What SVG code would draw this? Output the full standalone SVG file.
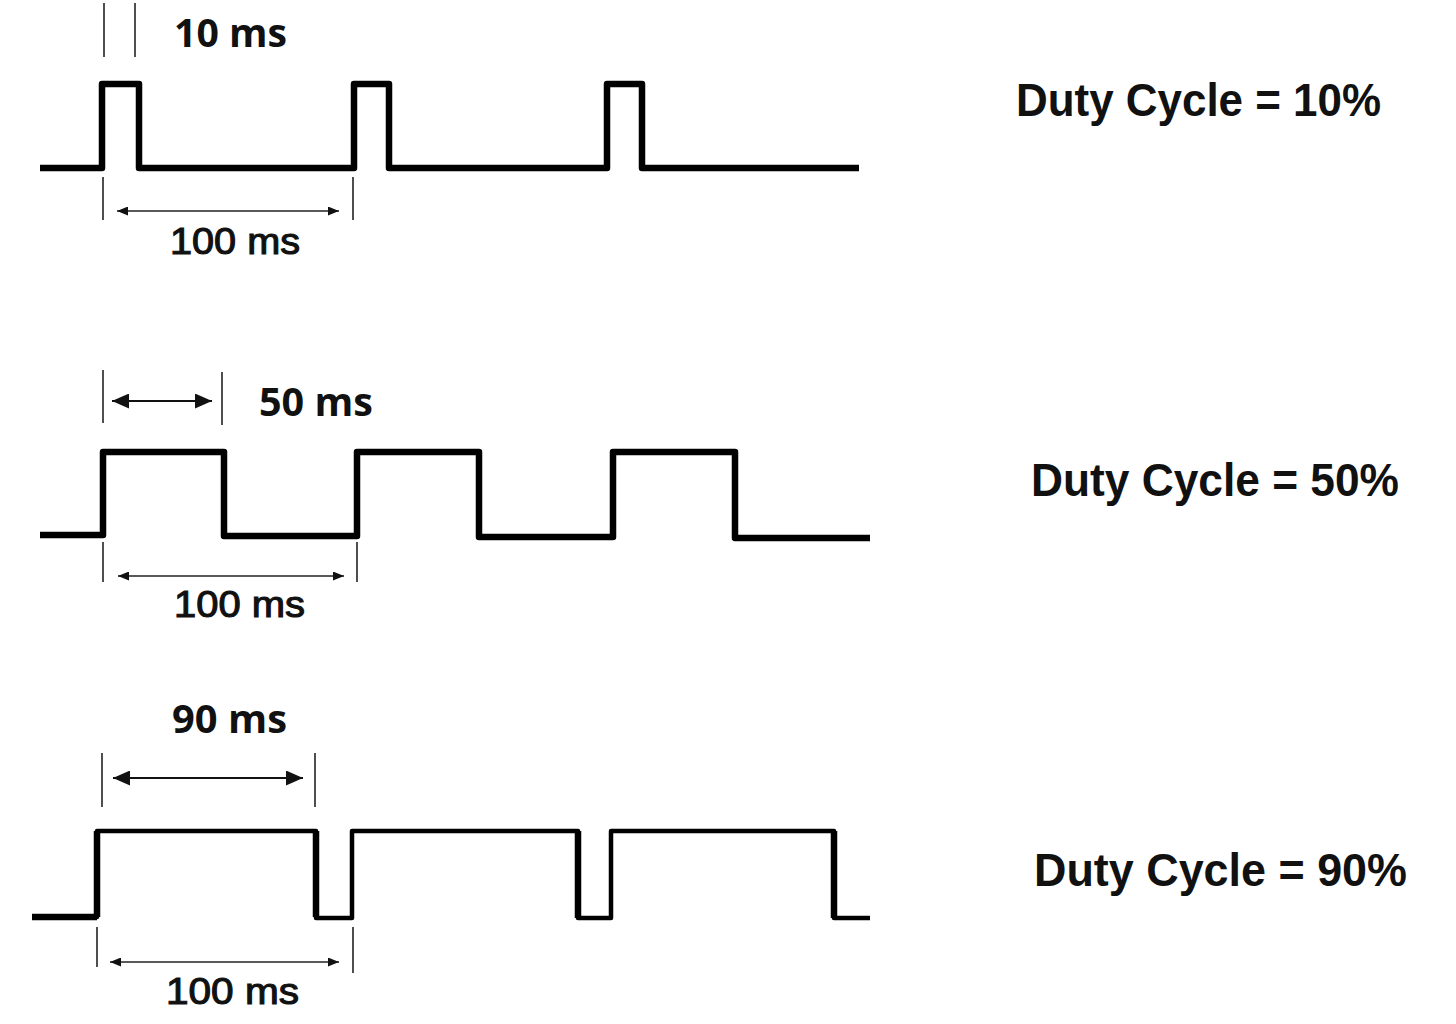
<svg xmlns="http://www.w3.org/2000/svg" width="1456" height="1024" viewBox="0 0 1456 1024">
  <defs>
    <marker id="arrS" markerUnits="userSpaceOnUse" markerWidth="11" markerHeight="9" refX="11" refY="4.5" orient="auto-start-reverse">
      <path d="M0,0 L11,4.5 L0,9 z" fill="#111"/>
    </marker>
    <marker id="arrL" markerUnits="userSpaceOnUse" markerWidth="17" markerHeight="15" refX="17" refY="7.5" orient="auto-start-reverse">
      <path d="M0,0 L17,7.5 L0,15 z" fill="#111"/>
    </marker>
  </defs>
  <style>
    .wave { fill: none; stroke: #000; stroke-linejoin: round; stroke-linecap: butt; }
    .tick { stroke: #222; stroke-width: 1.6; fill: none; }
    .dimS { stroke: #222; stroke-width: 1.6; fill: none; marker-start: url(#arrS); marker-end: url(#arrS); }
    .dimL { stroke: #111; stroke-width: 2.2; fill: none; marker-start: url(#arrL); marker-end: url(#arrL); }
    .lblB { font-family: "Open Sans", "Noto Sans", sans-serif; font-weight: 700; font-size: 40px; fill: #111; }
    .lblR { font-family: "Liberation Sans", Arial, sans-serif; font-weight: 400; font-size: 36px; fill: #111; stroke: #111; stroke-width: 1.1; }
    .duty { font-family: "Liberation Sans", Arial, sans-serif; font-weight: 700; font-size: 46px; fill: #111; }
  </style>
  <rect width="1456" height="1024" fill="#fff"/>

  <g id="wave1">
    <path class="wave" stroke-width="6.5" d="M40,168 H102 V84 H139 V168 H354 V84 H389 V168 H607 V84 H642 V168 H859"/>
  </g>
  <g id="wave2">
    <path class="wave" stroke-width="6.5" d="M40,535 H103 V452 H224 V536 H357 V452 H479 V537 H613 V452 H735 V538 H870"/>
  </g>
  <g id="wave3">
    <path class="wave" stroke-width="4.5" d="M32,917 H97 V831 H316 V918 H352 V831 H578 V918 H611 V831 H834 V918 H870"/>
    <path class="wave" stroke-width="6.5" d="M32,917 H97 M97,917 V831 M316,831 V917 M578,831 V918 M834,831 V918"/>
  </g>

  <g id="dimensions">
    <line class="tick" x1="104" y1="3" x2="104" y2="57"/>
    <line class="tick" x1="135" y1="3" x2="135" y2="57"/>
    <line class="tick" x1="103" y1="177" x2="103" y2="220"/>
    <line class="tick" x1="353" y1="177" x2="353" y2="220"/>
    <line class="dimS" x1="117" y1="211" x2="339" y2="211"/>
    <line class="tick" x1="103" y1="370" x2="103" y2="423"/>
    <line class="tick" x1="222" y1="372" x2="222" y2="425"/>
    <line class="dimL" x1="112" y1="401" x2="212" y2="401"/>
    <line class="tick" x1="103" y1="542" x2="103" y2="582"/>
    <line class="tick" x1="357" y1="542" x2="357" y2="582"/>
    <line class="dimS" x1="118" y1="576" x2="344" y2="576"/>
    <line class="tick" x1="102" y1="753" x2="102" y2="807"/>
    <line class="tick" x1="315" y1="753" x2="315" y2="807"/>
    <line class="dimL" x1="113" y1="778" x2="303" y2="778"/>
    <line class="tick" x1="97" y1="927" x2="97" y2="967"/>
    <line class="tick" x1="353" y1="927" x2="353" y2="973"/>
    <line class="dimS" x1="110" y1="962" x2="339" y2="962"/>
  </g>

  <g id="labels">
    <text class="lblB" x="174" y="47" textLength="113" lengthAdjust="spacingAndGlyphs">10 ms</text>
    <text class="lblR" x="170" y="254" textLength="130" lengthAdjust="spacingAndGlyphs">100 ms</text>
    <text class="lblB" x="259" y="416" textLength="114" lengthAdjust="spacingAndGlyphs">50 ms</text>
    <text class="lblR" x="174" y="617" textLength="131" lengthAdjust="spacingAndGlyphs">100 ms</text>
    <text class="lblB" x="172" y="733" textLength="115" lengthAdjust="spacingAndGlyphs">90 ms</text>
    <text class="lblR" x="166" y="1004" textLength="133" lengthAdjust="spacingAndGlyphs">100 ms</text>
    <text class="duty" x="1016" y="116" textLength="365" lengthAdjust="spacingAndGlyphs">Duty Cycle = 10%</text>
    <text class="duty" x="1031" y="496" textLength="368" lengthAdjust="spacingAndGlyphs">Duty Cycle = 50%</text>
    <text class="duty" x="1034" y="886" textLength="373" lengthAdjust="spacingAndGlyphs">Duty Cycle = 90%</text>
  </g>
</svg>
